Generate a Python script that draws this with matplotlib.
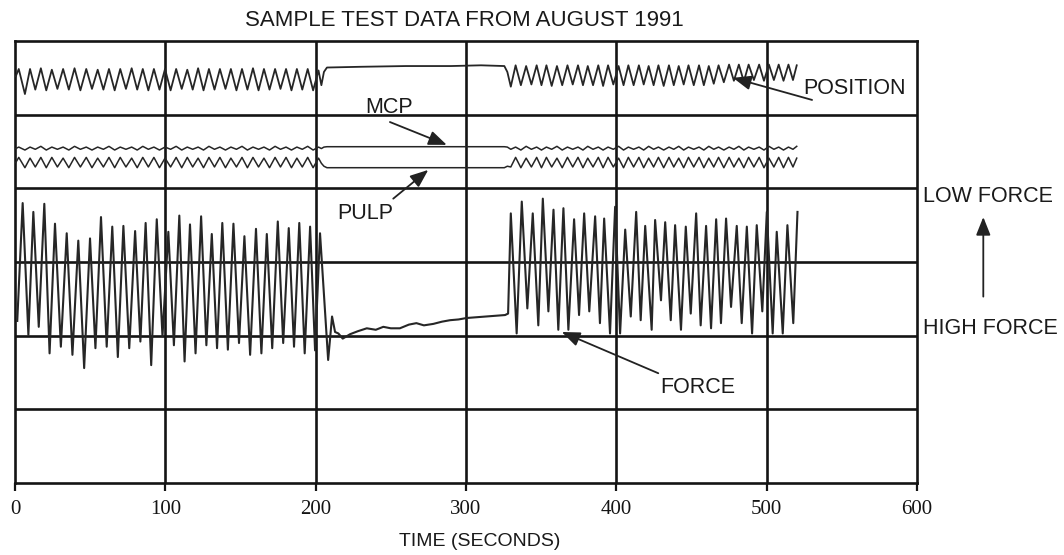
import matplotlib
matplotlib.use("Agg")
import matplotlib.pyplot as plt

# ---------------- data ----------------
# FORCE, first (cycling) segment: alternating troughs/peaks
force_seg1_t = [1.5, 5.1, 8.9, 12.2, 15.8, 19.5, 23.0, 26.6, 30.5, 34.4, 38.2, 42.1, 46.0, 49.9,
                53.5, 57.2, 61.0, 64.7, 68.4, 72.1, 76.0, 79.9, 83.4, 86.9, 90.6, 94.3, 98.1, 102.0,
                105.7, 109.3, 112.8, 116.4, 120.1, 123.8, 127.3, 130.9, 134.4, 137.9, 141.6, 145.3,
                149.0, 152.6, 156.4, 160.3, 163.9, 167.5, 171.1, 174.8, 178.4, 182.1, 185.6, 189.1,
                192.7, 196.3, 199.6, 202.9]
force_seg1_y = [2.20, 3.80, 2.01, 3.68, 2.12, 3.79, 1.76, 3.52, 1.85, 3.39, 1.74, 3.29, 1.56, 3.32,
                1.83, 3.61, 1.85, 3.48, 1.71, 3.49, 1.83, 3.42, 1.92, 3.53, 1.60, 3.58, 1.99, 3.41,
                1.87, 3.63, 1.65, 3.51, 1.76, 3.62, 1.87, 3.38, 1.83, 3.53, 1.81, 3.52, 1.90, 3.35,
                1.74, 3.45, 1.76, 3.38, 1.83, 3.55, 1.90, 3.46, 1.85, 3.53, 1.76, 3.48, 1.80, 3.39]
# FORCE, hold segment (pulp/MCP blocked)
force_hold_t = [208.3, 210.9, 212.9, 215.1, 218.0, 222.9, 228.0, 234.0, 240.0, 245.0,
                250.0, 256.0, 262.0, 267.0, 272.0, 278.3, 284.0, 289.4, 295.0, 300.5,
                307.0, 313.8, 320.0, 326.0, 328.0]
force_hold_y = [1.67, 2.26, 2.05, 2.03, 1.96, 2.02, 2.06, 2.10, 2.08, 2.12,
                2.10, 2.10, 2.15, 2.17, 2.14, 2.16, 2.19, 2.21, 2.22, 2.24,
                2.25, 2.26, 2.27, 2.28, 2.30]
# FORCE, second cycling segment
force_seg3_t = [329.8, 333.7, 337.1, 340.8, 344.4, 348.1, 351.1, 354.8, 358.2, 361.4,
                364.8, 368.1, 371.9, 375.2, 378.6, 382.0, 385.9, 389.1, 391.9, 395.8,
                399.2, 402.5, 405.9, 409.6, 413.2, 416.2, 419.2, 423.5, 425.8, 429.7,
                432.5, 436.2, 439.1, 443.0, 446.2, 449.5, 453.1, 456.1, 459.7, 463.0,
                466.4, 469.6, 473.0, 476.3, 480.1, 483.4, 486.8, 490.3, 493.4, 497.1,
                500.1, 504.0, 506.7, 510.7, 513.8, 517.7, 520.5]
force_seg3_y = [3.66, 2.03, 3.82, 2.37, 3.66, 2.14, 3.86, 2.33, 3.71, 2.08,
                3.73, 2.08, 3.58, 2.28, 3.66, 2.33, 3.62, 2.17, 3.59, 2.03,
                3.75, 2.03, 3.44, 2.26, 3.68, 2.21, 3.49, 2.08, 3.57, 2.48,
                3.54, 2.21, 3.50, 2.08, 3.48, 2.30, 3.66, 2.14, 3.49, 2.10,
                3.58, 2.17, 3.59, 2.39, 3.49, 2.17, 3.48, 2.03, 3.50, 2.33,
                3.68, 2.03, 3.41, 2.03, 3.50, 2.17, 3.68]

# POSITION / MCP / PULP share the cycle times
cyc_seg1_t = [0.5, 2.5, 6.6, 10.0, 13.5, 17.2, 20.8, 24.5, 28.2, 32.0, 35.8, 39.6, 43.5, 47.4,
              51.2, 55.0, 58.8, 62.5, 66.3, 70.0, 73.8, 77.6, 81.3, 85.0, 88.7, 92.4, 96.1,
              99.8, 103.5, 107.2, 110.9, 114.6, 118.2, 121.8, 125.4, 129.0, 132.7, 136.3,
              140.0, 143.6, 147.3, 151.0, 154.6, 158.3, 162.0, 165.6, 169.3, 173.0, 176.6,
              180.3, 183.9, 187.5, 191.1, 194.7, 198.3, 201.9]
position_seg1 = [5.52, 5.62, 5.28, 5.62, 5.34, 5.63, 5.33, 5.61, 5.35, 5.62, 5.34, 5.63, 5.33, 5.62,
                 5.35, 5.61, 5.34, 5.62, 5.33, 5.62, 5.35, 5.63, 5.34, 5.62, 5.33, 5.62, 5.34,
                 5.62, 5.33, 5.62, 5.35, 5.61, 5.34, 5.63, 5.33, 5.62, 5.34, 5.62,
                 5.35, 5.62, 5.33, 5.62, 5.34, 5.63, 5.33, 5.62, 5.34, 5.62, 5.35,
                 5.62, 5.33, 5.62, 5.34, 5.62, 5.33, 5.60]
mcp_seg1 = [4.54, 4.56, 4.52, 4.56, 4.53, 4.57, 4.52, 4.56, 4.53, 4.56, 4.52, 4.57, 4.53, 4.56,
            4.52, 4.56, 4.53, 4.57, 4.52, 4.56, 4.53, 4.56, 4.52, 4.57, 4.53, 4.56, 4.52,
            4.56, 4.53, 4.57, 4.52, 4.56, 4.53, 4.56, 4.52, 4.57, 4.53, 4.56,
            4.52, 4.56, 4.53, 4.57, 4.52, 4.56, 4.53, 4.56, 4.52, 4.57, 4.53,
            4.56, 4.52, 4.56, 4.53, 4.57, 4.52, 4.56]
pulp_seg1 = [4.35, 4.42, 4.28, 4.41, 4.29, 4.42, 4.28, 4.42, 4.29, 4.41, 4.28, 4.42, 4.29, 4.42,
             4.28, 4.41, 4.29, 4.42, 4.28, 4.42, 4.29, 4.41, 4.28, 4.42, 4.29, 4.42, 4.28,
             4.41, 4.29, 4.42, 4.28, 4.42, 4.29, 4.41, 4.28, 4.42, 4.29, 4.42,
             4.28, 4.41, 4.29, 4.42, 4.28, 4.42, 4.29, 4.41, 4.28, 4.42, 4.29,
             4.42, 4.28, 4.41, 4.29, 4.42, 4.28, 4.41]

cyc_hold_t = [203.8, 205.5, 207.5, 230.0, 260.0, 290.0, 310.0, 325.5, 327.5]
position_hold = [5.40, 5.58, 5.64, 5.65, 5.66, 5.66, 5.67, 5.66, 5.58]
mcp_hold = [4.54, 4.56, 4.565, 4.565, 4.565, 4.565, 4.565, 4.565, 4.56]
pulp_hold = [4.34, 4.30, 4.28, 4.28, 4.28, 4.28, 4.28, 4.28, 4.30]

cyc_seg3_t = [329.8, 333.0, 336.5, 340.0, 343.5, 347.0, 350.2, 353.5, 357.0, 360.5,
              364.0, 367.5, 371.0, 374.5, 377.8, 381.0, 384.5, 388.0, 391.2, 394.5,
              398.0, 401.5, 404.8, 408.0, 411.5, 415.0, 418.2, 421.5, 424.8, 428.0,
              431.5, 435.0, 438.2, 441.5, 444.8, 448.0, 451.5, 455.0, 458.2, 461.5,
              464.8, 468.0, 471.5, 475.0, 478.2, 481.5, 484.8, 488.0, 491.5, 495.0,
              498.2, 501.5, 504.8, 508.0, 511.2, 514.5, 517.5, 520.0]
position_seg3 = [5.38, 5.67, 5.40, 5.66, 5.41, 5.67, 5.40, 5.67, 5.39, 5.66,
                 5.40, 5.67, 5.41, 5.67, 5.40, 5.66, 5.40, 5.67, 5.39, 5.67,
                 5.41, 5.66, 5.40, 5.67, 5.40, 5.67, 5.41, 5.66, 5.40, 5.67,
                 5.39, 5.67, 5.40, 5.66, 5.41, 5.67, 5.40, 5.67, 5.40, 5.66,
                 5.42, 5.67, 5.44, 5.68, 5.46, 5.68, 5.45, 5.68, 5.47, 5.68,
                 5.46, 5.68, 5.47, 5.68, 5.46, 5.68, 5.47, 5.67]
mcp_seg3 = [4.53, 4.56, 4.52, 4.57, 4.53, 4.56, 4.52, 4.56, 4.53, 4.57,
            4.52, 4.56, 4.53, 4.56, 4.52, 4.57, 4.53, 4.56, 4.52, 4.56,
            4.53, 4.57, 4.52, 4.56, 4.53, 4.56, 4.52, 4.57, 4.53, 4.56,
            4.52, 4.56, 4.53, 4.57, 4.52, 4.56, 4.53, 4.56, 4.52, 4.57,
            4.53, 4.56, 4.52, 4.56, 4.53, 4.57, 4.52, 4.56, 4.53, 4.56,
            4.52, 4.57, 4.53, 4.56, 4.52, 4.56, 4.53, 4.57]
pulp_seg3 = [4.29, 4.42, 4.28, 4.41, 4.29, 4.42, 4.28, 4.42, 4.29, 4.41,
             4.28, 4.42, 4.29, 4.42, 4.28, 4.41, 4.29, 4.42, 4.28, 4.42,
             4.29, 4.41, 4.28, 4.42, 4.29, 4.42, 4.28, 4.41, 4.29, 4.42,
             4.28, 4.42, 4.29, 4.41, 4.28, 4.42, 4.29, 4.42, 4.28, 4.41,
             4.29, 4.42, 4.28, 4.42, 4.29, 4.41, 4.28, 4.42, 4.29, 4.42,
             4.28, 4.41, 4.29, 4.42, 4.28, 4.42, 4.29, 4.41]

x_ticks = [0, 100, 200, 300, 400, 500, 600]
x_tick_labels = ["0", "100", "200", "300", "400", "500", "600"]
title = "SAMPLE TEST DATA FROM AUGUST 1991"
x_label = "TIME (SECONDS)"

# ---------------- drawing ----------------
def join(*pairs):
    xs, ys = [], []
    for t, v in pairs:
        n = min(len(t), len(v))
        xs += list(t[:n])
        ys += list(v[:n])
    return xs, ys

W, H = 1064, 555
fig = plt.figure(figsize=(W / 100, H / 100), dpi=100)
ax = fig.add_axes([15 / W, 1 - 483 / H, 902 / W, 442 / H])
ax.set_xlim(0, 600)
ax.set_ylim(0, 6)

grid_c = "#141414"
for yy in [1, 2, 3, 4, 5]:
    ax.axhline(yy, color=grid_c, lw=1.9, zorder=1)
for xx in x_ticks[1:-1]:
    ax.axvline(xx, color=grid_c, lw=1.9, zorder=1)

sig_c = "#262626"
fx, fy = join((force_seg1_t, force_seg1_y), (force_hold_t, force_hold_y), (force_seg3_t, force_seg3_y))
ax.plot(fx, fy, color=sig_c, lw=1.5, zorder=3)
px_, py_ = join((cyc_seg1_t, position_seg1), (cyc_hold_t, position_hold), (cyc_seg3_t, position_seg3))
ax.plot(px_, py_, color=sig_c, lw=1.3, zorder=3)
mx, my = join((cyc_seg1_t, mcp_seg1), (cyc_hold_t, mcp_hold), (cyc_seg3_t, mcp_seg3))
ax.plot(mx, my, color=sig_c, lw=1.1, zorder=3)
ux, uy = join((cyc_seg1_t, pulp_seg1), (cyc_hold_t, pulp_hold), (cyc_seg3_t, pulp_seg3))
ax.plot(ux, uy, color=sig_c, lw=1.1, zorder=3)

for s in ax.spines.values():
    s.set_linewidth(1.9)
    s.set_color(grid_c)

ax.set_yticks([])
ax.set_xticks(x_ticks)
ax.set_xticklabels(x_tick_labels, fontfamily="Liberation Serif", fontsize=15)
ax.tick_params(axis="x", direction="out", length=6, width=1.6, pad=6, colors=grid_c)

sans = "Liberation Sans"
fig.text(464 / W, 1 - 20 / H, title, ha="center", va="center", fontsize=16, fontfamily=sans, color="#1a1a1a")
fig.text(480 / W, 1 - 541 / H, x_label, ha="center", va="center", fontsize=14, fontfamily=sans, color="#1a1a1a")

txt_kw = dict(fontsize=15.5, fontfamily=sans, color="#1a1a1a", va="center")
ax.text(524.2, 5.36, "POSITION", ha="left", **txt_kw)
ax.text(248.8, 5.10, "MCP", ha="center", **txt_kw)
ax.text(233.2, 3.66, "PULP", ha="center", **txt_kw)
ax.text(454.3, 1.30, "FORCE", ha="center", **txt_kw)
ax.text(603.8, 3.89, "LOW FORCE", ha="left", clip_on=False, **txt_kw)
ax.text(603.8, 2.10, "HIGH FORCE", ha="left", clip_on=False, **txt_kw)

arrow_kw = dict(arrowstyle="-|>,head_length=0.55,head_width=0.22", color="#222222", lw=1.3,
                shrinkA=0, shrinkB=0, mutation_scale=20)
arrows = [((530.2, 5.20), (477.6, 5.50)),
          ((249.4, 4.90), (287.2, 4.59)),
          ((251.6, 3.86), (274.9, 4.25)),
          ((427.9, 1.49), (363.7, 2.05)),
          ((644.1, 2.53), (644.1, 3.61))]
for tail, head in arrows:
    ax.annotate("", xy=head, xytext=tail, arrowprops=arrow_kw, annotation_clip=False, zorder=5)

fig.savefig("out.png", dpi=100, facecolor="white")
